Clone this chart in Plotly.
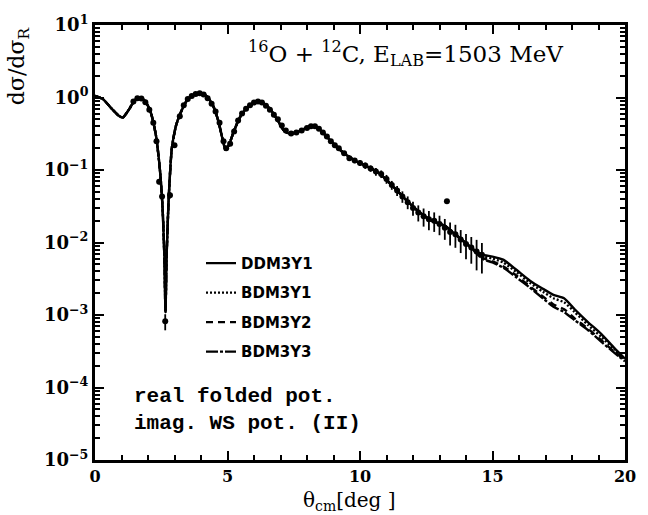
import plotly.graph_objects as go

# ---- theoretical curves (shared part where all models coincide) ----
x_head = [0.0, 0.3, 0.6, 0.9, 1.05, 1.3, 1.5, 1.7, 1.9, 2.1, 2.3, 2.45, 2.55, 2.62, 2.66,
          2.70, 2.78, 2.9, 3.05, 3.2, 3.5, 3.75, 3.95, 4.2, 4.45, 4.65, 4.8, 4.93, 5.05,
          5.25, 5.5, 5.8, 6.1, 6.3, 6.6, 6.9, 7.1, 7.3, 7.6, 7.9, 8.2, 8.45, 8.7, 9.0,
          9.4, 9.8, 10.2, 10.7, 11.2, 11.7, 12.2, 12.7, 13.2, 13.7, 14.2]
y_head = [1.05, 0.95, 0.72, 0.56, 0.53, 0.70, 0.92, 1.0, 0.88, 0.63, 0.30, 0.10, 0.03,
          0.006, 0.0011, 0.006, 0.04, 0.2, 0.40, 0.58, 0.95, 1.1, 1.15, 1.05, 0.78, 0.48,
          0.28, 0.19, 0.22, 0.35, 0.56, 0.76, 0.88, 0.86, 0.70, 0.48, 0.36, 0.32, 0.33,
          0.37, 0.41, 0.37, 0.30, 0.23, 0.17, 0.135, 0.115, 0.092, 0.062, 0.040, 0.027,
          0.020, 0.017, 0.012, 0.0085]

x_tail = [14.6, 15.0, 15.4, 15.9, 16.4, 16.9, 17.3, 17.7, 18.1, 18.6, 19.1, 19.6, 20.0]
y_tail_ddm3y1 = [0.0068, 0.0064, 0.0058, 0.0042, 0.0030, 0.0023, 0.0019, 0.0017, 0.0012,
                 0.00080, 0.00055, 0.00035, 0.00025]
y_tail_bdm3y1 = [0.0066, 0.0060, 0.0053, 0.0039, 0.0028, 0.0021, 0.0017, 0.0015, 0.0011,
                 0.00073, 0.00050, 0.00033, 0.00024]
y_tail_bdm3y2 = [0.0062, 0.0055, 0.0047, 0.0035, 0.0025, 0.0018, 0.0014, 0.0012, 0.00090,
                 0.00065, 0.00045, 0.00031, 0.00024]
y_tail_bdm3y3 = [0.0060, 0.0053, 0.0045, 0.0033, 0.0024, 0.0017, 0.0013, 0.0011, 0.00085,
                 0.00062, 0.00043, 0.00030, 0.00023]

model_names = ["DDM3Y1", "BDM3Y1", "BDM3Y2", "BDM3Y3"]

# ---- experimental data ----
data_x = [1.45, 1.6, 1.75, 1.9, 2.05, 2.2, 2.32, 2.42, 2.53, 2.65, 2.83, 3.0, 3.2, 3.35,
          3.5, 3.65, 3.8, 3.95, 4.1, 4.25, 4.4, 4.55, 4.7, 4.85, 4.95, 5.1, 5.25, 5.4,
          5.55, 5.7, 5.85, 6.0, 6.15, 6.3, 6.45, 6.6, 6.75, 6.9, 7.05, 7.2, 7.4, 7.6,
          7.8, 8.0, 8.15, 8.3, 8.45, 8.6, 8.75, 8.9, 9.05, 9.2, 9.4, 9.6, 9.8, 10.0,
          10.2, 10.4, 10.6, 10.8, 11.0, 11.2, 11.4, 11.6, 11.8, 12.0, 12.2, 12.4, 12.6,
          12.8, 13.0, 13.2, 13.28, 13.4, 13.6, 13.8, 14.0, 14.2, 14.4, 14.6]
data_y = [0.88, 0.98, 0.97, 0.86, 0.68, 0.45, 0.25, 0.069, 0.043, 0.00082, 0.045, 0.22,
          0.55, 0.78, 0.95, 1.05, 1.12, 1.14, 1.10, 0.98, 0.82, 0.64, 0.45, 0.25, 0.20,
          0.23, 0.34, 0.48, 0.60, 0.70, 0.78, 0.85, 0.88, 0.85, 0.77, 0.68, 0.58, 0.50,
          0.41, 0.35, 0.32, 0.33, 0.35, 0.38, 0.40, 0.40, 0.37, 0.33, 0.29, 0.25, 0.22,
          0.20, 0.17, 0.145, 0.135, 0.125, 0.115, 0.105, 0.095, 0.088, 0.075, 0.062,
          0.052, 0.043, 0.036, 0.030, 0.026, 0.023, 0.021, 0.020, 0.018, 0.016, 0.037,
          0.014, 0.013, 0.011, 0.0095, 0.0085, 0.0075, 0.0068]
data_rel_err = [0.04, 0.04, 0.04, 0.04, 0.05, 0.05, 0.06, 0.08, 0.10, 0.25, 0.10, 0.06,
                0.05, 0.04, 0.04, 0.04, 0.04, 0.04, 0.04, 0.04, 0.04, 0.04, 0.05, 0.06,
                0.06, 0.06, 0.05, 0.05, 0.04, 0.04, 0.04, 0.04, 0.04, 0.04, 0.04, 0.04,
                0.04, 0.04, 0.05, 0.05, 0.05, 0.05, 0.05, 0.05, 0.05, 0.05, 0.05, 0.05,
                0.06, 0.06, 0.06, 0.07, 0.07, 0.08, 0.08, 0.09, 0.10, 0.10, 0.12, 0.12,
                0.14, 0.14, 0.16, 0.18, 0.20, 0.22, 0.25, 0.28, 0.30, 0.30, 0.30, 0.32,
                0.0, 0.35, 0.35, 0.35, 0.38, 0.40, 0.45, 0.45]

x_ticks = [0, 5, 10, 15, 20]
y_ticks = [10.0, 1.0, 0.1, 0.01, 0.001, 0.0001, 0.00001]
y_tick_text = ["10<sup>1</sup>", "10<sup>0</sup>", "10<sup>−1</sup>", "10<sup>−2</sup>",
               "10<sup>−3</sup>", "10<sup>−4</sup>", "10<sup>−5</sup>"]

tails = [y_tail_ddm3y1, y_tail_bdm3y1, y_tail_bdm3y2, y_tail_bdm3y3]
dashes = ["solid", "2px,2px", "7px,5px", "12px,2px,3px,2px"]

fig = go.Figure()

for name, tail, dash in zip(model_names, tails, dashes):
    fig.add_trace(go.Scatter(
        x=x_head + x_tail, y=y_head + tail, mode="lines", name=name,
        legendgroup=name,
        line=dict(color="black", width=2.4, dash=dash, shape="spline", smoothing=0.6),
    ))

fig.add_trace(go.Scatter(
    x=data_x, y=data_y, mode="markers", showlegend=False,
    marker=dict(color="black", size=6),
    error_y=dict(type="data", array=[r * v for r, v in zip(data_rel_err, data_y)],
                 color="black", thickness=1.8, width=0),
))

axis_common = dict(
    showline=True, linecolor="black", linewidth=3, mirror="allticks",
    ticks="inside", ticklen=9, tickwidth=2, tickcolor="black",
    showgrid=False, zeroline=False,
)

fig.update_xaxes(
    range=[0, 20], tickvals=x_ticks, ticktext=[str(v) for v in x_ticks],
    tickfont=dict(family="DejaVu Serif", size=16, color="black", weight="bold"),
    minor=dict(dtick=1, ticks="inside", ticklen=5, tickwidth=1.5, tickcolor="black"),
    **axis_common,
)
fig.update_yaxes(
    type="log", range=[-5, 1], tickvals=y_ticks, ticktext=y_tick_text,
    tickfont=dict(family="DejaVu Serif", size=18, color="black", weight="bold"),
    minor=dict(dtick="D1", ticks="inside", ticklen=5, tickwidth=1.5, tickcolor="black"),
    **axis_common,
)

fig.add_annotation(
    text="θ<sub>cm</sub>[deg ]", xref="paper", yref="paper", x=0.48, y=-0.095,
    xanchor="center", yanchor="middle", showarrow=False,
    font=dict(family="DejaVu Serif", size=20, color="black"),
)
fig.add_annotation(
    text="dσ/dσ<sub>R</sub>", xref="paper", yref="paper", x=-0.145, y=1.0,
    xanchor="center", yanchor="top", textangle=-90, showarrow=False,
    font=dict(family="DejaVu Serif", size=22, color="black"),
)
fig.add_annotation(
    text="<sup>16</sup>O + <sup>12</sup>C, E<sub>LAB</sub>=1503 MeV",
    xref="paper", yref="paper", x=0.585, y=0.935,
    xanchor="center", yanchor="middle", showarrow=False,
    font=dict(family="DejaVu Serif", size=23, color="black"),
)
fig.add_annotation(
    text="real folded pot.<br>imag. WS pot. (II)",
    xref="paper", yref="paper", x=0.07, y=0.115,
    xanchor="left", yanchor="middle", align="left", showarrow=False,
    font=dict(family="Liberation Mono", size=21, color="black", weight="bold"),
)

fig.update_layout(
    width=648, height=515,
    margin=dict(l=95, r=12, t=22, b=55),
    paper_bgcolor="white", plot_bgcolor="white",
    showlegend=True,
    legend=dict(
        x=0.2, y=0.49, xanchor="left", yanchor="top",
        bgcolor="rgba(0,0,0,0)", tracegroupgap=7,
        font=dict(family="DejaVu Sans", size=15, color="black", weight="bold"),
    ),
)

fig.write_html("out.html")
